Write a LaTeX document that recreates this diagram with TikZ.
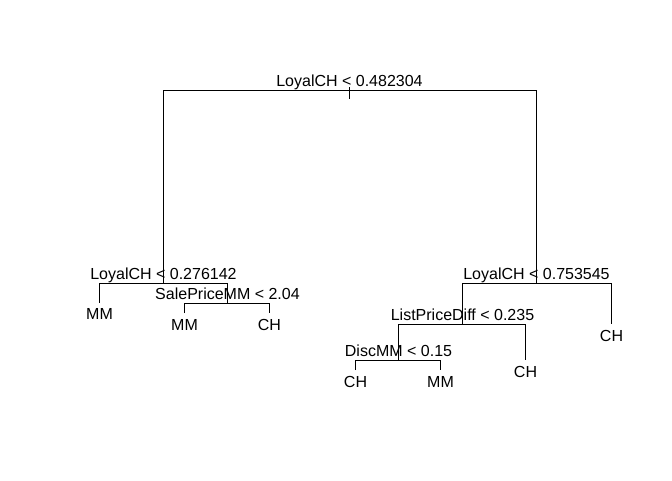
\documentclass[tikz,border=0pt]{standalone}
\usepackage{fontspec}
\setmainfont{Liberation Sans}
\usetikzlibrary{positioning}

\begin{document}
\begin{tikzpicture}[x=0.75pt,y=-0.75pt,
    branch/.style={draw=black,line width=0.9pt},
    split/.style={anchor=base,inner sep=0pt,font=\fontsize{12}{14}\selectfont},
    leaf/.style={anchor=base,inner sep=0pt,font=\fontsize{12}{14}\selectfont}]
  \useasboundingbox (0,0) rectangle (672,480);
  % split points and leaf ends
  \coordinate (root) at (349.5,90.5);
  \coordinate (rootTop) at (349.5,87);
  \coordinate (rootEnd) at (349.5,99);
  \coordinate (loyA) at (163.5,283.5);
  \coordinate (sale) at (227.5,303.5);
  \coordinate (loyB) at (536.5,283.5);
  \coordinate (list) at (462.5,324.5);
  \coordinate (disc) at (398.5,360.5);
  \coordinate (mmA) at (99.5,302.5);
  \coordinate (mmB) at (184.5,313);
  \coordinate (chA) at (269.5,313);
  \coordinate (chB) at (611.5,324);
  \coordinate (chC) at (525.5,360);
  \coordinate (chD) at (355.5,370);
  \coordinate (mmC) at (440.5,370);

  \draw[branch] (rootTop) -- (rootEnd);
  \draw[branch] (loyA) |- (root) -| (loyB);
  \draw[branch] (mmA) |- (loyA) -| (sale);
  \draw[branch] (mmB) |- (sale) -| (chA);
  \draw[branch] (list) |- (loyB) -| (chB);
  \draw[branch] (disc) |- (list) -| (chC);
  \draw[branch] (chD) |- (disc) -| (mmC);

  % labels
  \node[split] (tRoot) at ([yshift=4*0.75pt]root) {LoyalCH < 0.482304};
  \node[split] (tLoyA) at ([yshift=4.5*0.75pt]loyA) {LoyalCH < 0.276142};
  \node[split] (tSale) at ([yshift=4.5*0.75pt]sale) {SalePriceMM < 2.04};
  \node[split] (tLoyB) at ([yshift=4.5*0.75pt]loyB) {LoyalCH < 0.753545};
  \node[split] (tList) at ([yshift=4.5*0.75pt]list) {ListPriceDiff < 0.235};
  \node[split] (tDisc) at ([yshift=4.5*0.75pt]disc) {DiscMM < 0.15};
  \node[leaf] (lMmA) at ([yshift=-17*0.75pt]mmA) {MM};
  \node[leaf] (lMmB) at ([yshift=-17*0.75pt]mmB) {MM};
  \node[leaf] (lChA) at ([yshift=-17*0.75pt]chA) {CH};
  \node[leaf] (lChB) at ([yshift=-17*0.75pt]chB) {CH};
  \node[leaf] (lChC) at ([yshift=-17*0.75pt]chC) {CH};
  \node[leaf] (lChD) at ([yshift=-17*0.75pt]chD) {CH};
  \node[leaf] (lMmC) at ([yshift=-17*0.75pt]mmC) {MM};
\end{tikzpicture}
\end{document}
